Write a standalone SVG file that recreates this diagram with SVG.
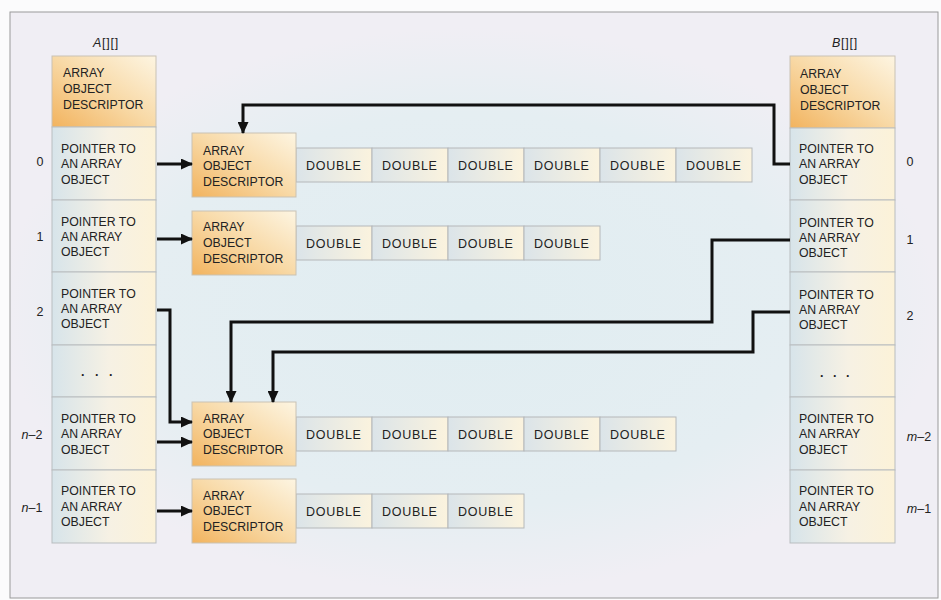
<svg xmlns="http://www.w3.org/2000/svg" width="941" height="600" viewBox="0 0 941 600">
<defs>
<radialGradient id="bg" cx="470" cy="310" r="470" gradientUnits="userSpaceOnUse" gradientTransform="translate(470 310) scale(1 0.6) translate(-470 -310)">
<stop offset="0" stop-color="#e0edf1"/><stop offset="0.7" stop-color="#e5eef2"/><stop offset="1" stop-color="#f0eef4"/>
</radialGradient>
<linearGradient id="desc" x1="0" y1="1" x2="1" y2="0">
<stop offset="0" stop-color="#f2b35e"/><stop offset="0.5" stop-color="#f8d9a6"/><stop offset="1" stop-color="#fdf5e2"/>
</linearGradient>
<linearGradient id="ptr" x1="0" y1="0" x2="1" y2="0">
<stop offset="0" stop-color="#d7e4ea"/><stop offset="0.55" stop-color="#f6f1e4"/><stop offset="1" stop-color="#fcf2d8"/>
</linearGradient>
<linearGradient id="dbl" x1="0" y1="0" x2="1" y2="0">
<stop offset="0" stop-color="#dbe4e9"/><stop offset="1" stop-color="#fbf3de"/>
</linearGradient>
<marker id="ah" viewBox="0 0 12 11" refX="11" refY="5.5" markerWidth="12" markerHeight="11" markerUnits="userSpaceOnUse" orient="auto">
<path d="M0,0 L12,5.5 L0,11 z" fill="#111"/>
</marker>
<style>
text{font-family:"Liberation Sans",Arial,sans-serif;fill:#222;}
.t{font-size:12.3px;}
.d{font-size:12.5px;letter-spacing:0.7px;}
.i{font-size:12.5px;}
.it{font-style:italic;}
.dots{font-size:12.5px;font-weight:bold;}
.cellD{fill:url(#desc);stroke:#c9c2b4;stroke-width:1;}
.cellP{fill:url(#ptr);stroke:#b9bdbf;stroke-width:1;}
.cellB{fill:url(#dbl);stroke:#b5b8ba;stroke-width:1;}
.con{fill:none;stroke:#111;stroke-width:3;}
</style>
</defs>
<rect x="0" y="0" width="941" height="600" fill="#fbfbfc"/>
<rect x="10" y="12" width="928" height="586" fill="url(#bg)" stroke="#9a9a9a" stroke-width="1"/>

<text class="i" x="106" y="47" text-anchor="middle" letter-spacing="0.8"><tspan class="it">A</tspan>[][]</text>
<text class="i" x="845" y="47" text-anchor="middle" letter-spacing="0.8"><tspan class="it">B</tspan>[][]</text>

<g id="A-desc"><rect class="cellD" x="52" y="56" width="104" height="71"/>
<text class="t" x="63" y="77">ARRAY</text><text class="t" x="63" y="93">OBJECT</text><text class="t" x="63" y="109">DESCRIPTOR</text></g>
<g id="A-0"><rect class="cellP" x="52" y="127" width="104" height="73"/>
<text class="t" x="61" y="152.5">POINTER TO</text><text class="t" x="61" y="168">AN ARRAY</text><text class="t" x="61" y="183.5">OBJECT</text>
<text class="i" x="40" y="166" text-anchor="middle">0</text></g>
<g id="A-1"><rect class="cellP" x="52" y="200" width="104" height="72"/>
<text class="t" x="61" y="225.5">POINTER TO</text><text class="t" x="61" y="240.5">AN ARRAY</text><text class="t" x="61" y="255.5">OBJECT</text>
<text class="i" x="40" y="241" text-anchor="middle">1</text></g>
<g id="A-2"><rect class="cellP" x="52" y="272" width="104" height="73"/>
<text class="t" x="61" y="297.5">POINTER TO</text><text class="t" x="61" y="312.5">AN ARRAY</text><text class="t" x="61" y="327.5">OBJECT</text>
<text class="i" x="40" y="316" text-anchor="middle">2</text></g>
<g id="A-dots"><rect class="cellP" x="52" y="345" width="104" height="52"/>
<text class="dots" x="81" y="376" letter-spacing="3.5">. . .</text></g>
<g id="A-n2"><rect class="cellP" x="52" y="397" width="104" height="73"/>
<text class="t" x="61" y="422.5">POINTER TO</text><text class="t" x="61" y="437.5">AN ARRAY</text><text class="t" x="61" y="453.5">OBJECT</text>
<text class="i" x="32" y="439" text-anchor="middle"><tspan class="it">n</tspan>–2</text></g>
<g id="A-n1"><rect class="cellP" x="52" y="470" width="104" height="73"/>
<text class="t" x="61" y="494.5">POINTER TO</text><text class="t" x="61" y="510.5">AN ARRAY</text><text class="t" x="61" y="525.5">OBJECT</text>
<text class="i" x="32" y="512" text-anchor="middle"><tspan class="it">n</tspan>–1</text></g>

<g id="B-desc"><rect class="cellD" x="790" y="56" width="105" height="72"/>
<text class="t" x="800" y="77.5">ARRAY</text><text class="t" x="800" y="93.5">OBJECT</text><text class="t" x="800" y="109.5">DESCRIPTOR</text></g>
<g id="B-0"><rect class="cellP" x="790" y="128" width="105" height="72"/>
<text class="t" x="799" y="152.5">POINTER TO</text><text class="t" x="799" y="168">AN ARRAY</text><text class="t" x="799" y="183.5">OBJECT</text>
<text class="i" x="910" y="166" text-anchor="middle">0</text></g>
<g id="B-1"><rect class="cellP" x="790" y="200" width="105" height="72"/>
<text class="t" x="799" y="226.5">POINTER TO</text><text class="t" x="799" y="241.5">AN ARRAY</text><text class="t" x="799" y="256.5">OBJECT</text>
<text class="i" x="910" y="244" text-anchor="middle">1</text></g>
<g id="B-2"><rect class="cellP" x="790" y="272" width="105" height="73"/>
<text class="t" x="799" y="298.5">POINTER TO</text><text class="t" x="799" y="313.5">AN ARRAY</text><text class="t" x="799" y="328.5">OBJECT</text>
<text class="i" x="910" y="320" text-anchor="middle">2</text></g>
<g id="B-dots"><rect class="cellP" x="790" y="345" width="105" height="52"/>
<text class="dots" x="820" y="377" letter-spacing="3">. . .</text></g>
<g id="B-m2"><rect class="cellP" x="790" y="397" width="105" height="73"/>
<text class="t" x="799" y="422.5">POINTER TO</text><text class="t" x="799" y="437.5">AN ARRAY</text><text class="t" x="799" y="453.5">OBJECT</text>
<text class="i" x="919" y="441" text-anchor="middle"><tspan class="it">m</tspan>–2</text></g>
<g id="B-m1"><rect class="cellP" x="790" y="470" width="105" height="73"/>
<text class="t" x="799" y="494.5">POINTER TO</text><text class="t" x="799" y="510.5">AN ARRAY</text><text class="t" x="799" y="525.5">OBJECT</text>
<text class="i" x="919" y="513" text-anchor="middle"><tspan class="it">m</tspan>–1</text></g>

<g id="row0">
<rect class="cellB" x="296" y="148" width="76" height="34"/><text class="d" x="306" y="169.5">DOUBLE</text>
<rect class="cellB" x="372" y="148" width="76" height="34"/><text class="d" x="382" y="169.5">DOUBLE</text>
<rect class="cellB" x="448" y="148" width="76" height="34"/><text class="d" x="458" y="169.5">DOUBLE</text>
<rect class="cellB" x="524" y="148" width="76" height="34"/><text class="d" x="534" y="169.5">DOUBLE</text>
<rect class="cellB" x="600" y="148" width="76" height="34"/><text class="d" x="610" y="169.5">DOUBLE</text>
<rect class="cellB" x="676" y="148" width="76" height="34"/><text class="d" x="686" y="169.5">DOUBLE</text>
</g>
<g id="D-0"><rect class="cellD" x="192" y="133" width="104" height="64"/>
<text class="t" x="203" y="154.5">ARRAY</text><text class="t" x="203" y="169.5">OBJECT</text><text class="t" x="203" y="185.5">DESCRIPTOR</text></g>

<g id="row1">
<rect class="cellB" x="296" y="226" width="76" height="34"/><text class="d" x="306" y="247.5">DOUBLE</text>
<rect class="cellB" x="372" y="226" width="76" height="34"/><text class="d" x="382" y="247.5">DOUBLE</text>
<rect class="cellB" x="448" y="226" width="76" height="34"/><text class="d" x="458" y="247.5">DOUBLE</text>
<rect class="cellB" x="524" y="226" width="76" height="34"/><text class="d" x="534" y="247.5">DOUBLE</text>
</g>
<g id="D-1"><rect class="cellD" x="192" y="211" width="104" height="64"/>
<text class="t" x="203" y="230.5">ARRAY</text><text class="t" x="203" y="246.5">OBJECT</text><text class="t" x="203" y="262.5">DESCRIPTOR</text></g>

<g id="rowN2">
<rect class="cellB" x="296" y="417" width="76" height="34"/><text class="d" x="306" y="438.5">DOUBLE</text>
<rect class="cellB" x="372" y="417" width="76" height="34"/><text class="d" x="382" y="438.5">DOUBLE</text>
<rect class="cellB" x="448" y="417" width="76" height="34"/><text class="d" x="458" y="438.5">DOUBLE</text>
<rect class="cellB" x="524" y="417" width="76" height="34"/><text class="d" x="534" y="438.5">DOUBLE</text>
<rect class="cellB" x="600" y="417" width="76" height="34"/><text class="d" x="610" y="438.5">DOUBLE</text>
</g>
<g id="D-n2"><rect class="cellD" x="192" y="402" width="104" height="64"/>
<text class="t" x="203" y="422.5">ARRAY</text><text class="t" x="203" y="437.5">OBJECT</text><text class="t" x="203" y="453.5">DESCRIPTOR</text></g>

<g id="rowN1">
<rect class="cellB" x="296" y="494" width="76" height="34"/><text class="d" x="306" y="515.5">DOUBLE</text>
<rect class="cellB" x="372" y="494" width="76" height="34"/><text class="d" x="382" y="515.5">DOUBLE</text>
<rect class="cellB" x="448" y="494" width="76" height="34"/><text class="d" x="458" y="515.5">DOUBLE</text>
</g>
<g id="D-n1"><rect class="cellD" x="192" y="479" width="104" height="64"/>
<text class="t" x="203" y="499.5">ARRAY</text><text class="t" x="203" y="514.5">OBJECT</text><text class="t" x="203" y="530.5">DESCRIPTOR</text></g>

<g id="connectors">
<path class="con" marker-end="url(#ah)" d="M157,164 H192"/>
<path class="con" marker-end="url(#ah)" d="M157,239 H192"/>
<path class="con" marker-end="url(#ah)" d="M157,310 H170 V422 H192"/>
<path class="con" marker-end="url(#ah)" d="M157,442 H192"/>
<path class="con" marker-end="url(#ah)" d="M157,511 H192"/>
<path class="con" marker-end="url(#ah)" d="M790,164 H774 V105 H243 V133"/>
<path class="con" marker-end="url(#ah)" d="M790,240 H712 V322 H231 V402"/>
<path class="con" marker-end="url(#ah)" d="M790,312 H753 V352 H273 V402"/>
</g>
</svg>
